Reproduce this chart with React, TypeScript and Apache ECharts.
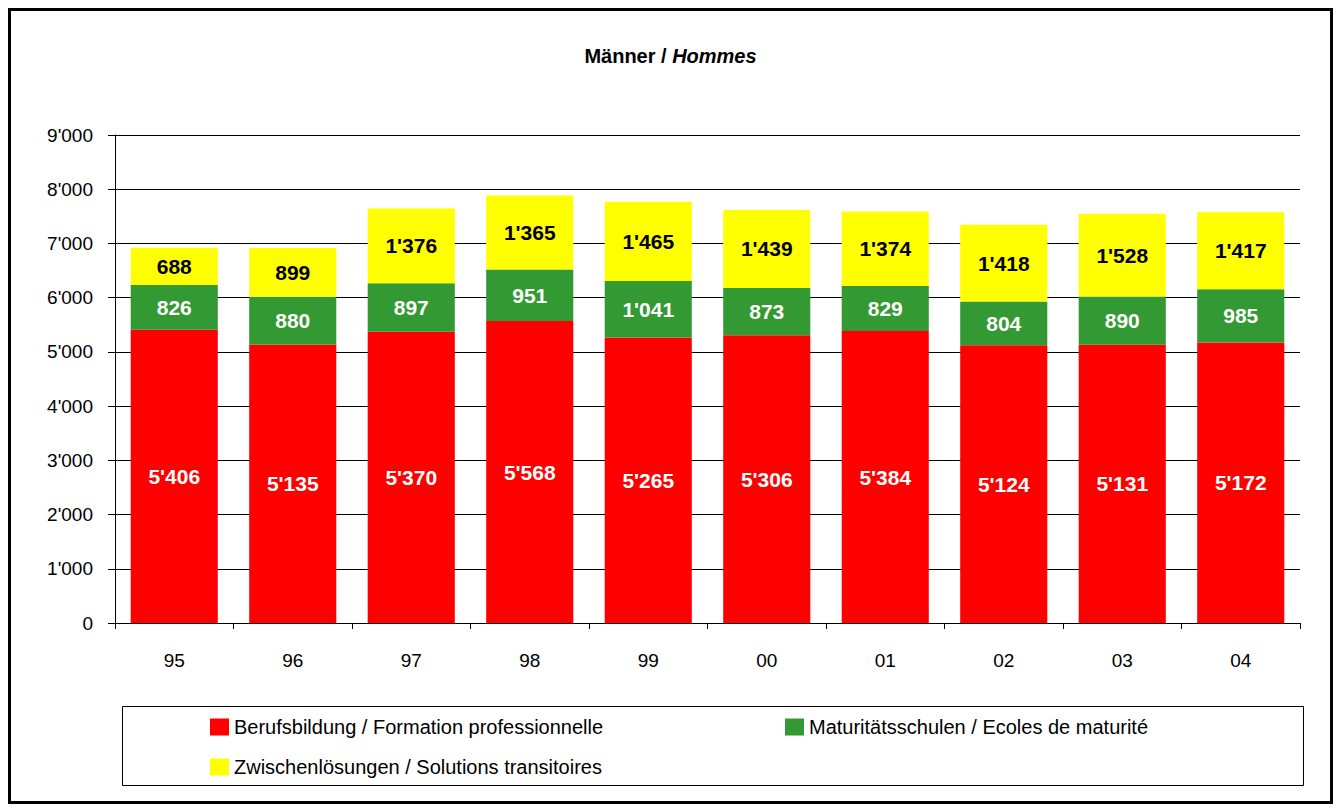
import React, { useEffect, useRef } from "react";
import * as echarts from "echarts";

const categories = ["95", "96", "97", "98", "99", "00", "01", "02", "03", "04"];
const berufsbildung = [5406, 5135, 5370, 5568, 5265, 5306, 5384, 5124, 5131, 5172];
const maturitaet = [826, 880, 897, 951, 1041, 873, 829, 804, 890, 985];
const zwischen = [688, 899, 1376, 1365, 1465, 1439, 1374, 1418, 1528, 1417];
const seriesNames = [
  "Berufsbildung / Formation professionnelle",
  "Maturitätsschulen / Ecoles de maturité",
  "Zwischenlösungen / Solutions transitoires",
];

const fmt = (v: number) => {
  const s = String(Math.round(v));
  return s.replace(/\B(?=(\d{3})+(?!\d))/g, "'");
};

const AX_FONT = "'Liberation Sans', Arial, sans-serif";

export default function App() {
  const ref = useRef<HTMLDivElement>(null);
  useEffect(() => {
    if (!ref.current) return;
    const chart = echarts.init(ref.current, undefined, { renderer: "svg" });
    const mkLabel = (color: string) => ({
      show: true,
      position: "inside",
      color,
      fontFamily: AX_FONT,
      fontWeight: "bold",
      fontSize: 21,
      formatter: (p: any) => fmt(p.value),
    });
    const legendBase = {
      orient: "horizontal",
      itemWidth: 19,
      itemHeight: 17,
      icon: "rect",
      selectedMode: false,
      textStyle: { fontFamily: AX_FONT, fontSize: 20, color: "#000" },
      itemGap: 6,
    };
    chart.setOption({
      animation: false,
      backgroundColor: "#fff",
      title: {
        text: "{b|Männer / }{bi|Hommes}",
        left: "center",
        top: 41,
        textStyle: {
          rich: {
            b: { fontFamily: AX_FONT, fontWeight: "bold", fontSize: 20, color: "#000" },
            bi: { fontFamily: AX_FONT, fontWeight: "bold", fontStyle: "italic", fontSize: 20, color: "#000" },
          },
        },
      },
      grid: { left: 115, right: 41, top: 135, bottom: 185, containLabel: false },
      legend: [
        { ...legendBase, left: 205, top: 712, data: [seriesNames[0]] },
        { ...legendBase, left: 780, top: 712, data: [seriesNames[1]] },
        { ...legendBase, left: 205, top: 752, data: [seriesNames[2]] },
      ],
      xAxis: {
        type: "category",
        data: categories,
        axisLine: { lineStyle: { color: "#000", width: 1 } },
        axisTick: { show: true, length: 6, lineStyle: { color: "#000" } },
        axisLabel: { fontFamily: AX_FONT, fontSize: 19, color: "#000", margin: 28 },
      },
      yAxis: {
        type: "value",
        min: 0,
        max: 9000,
        interval: 1000,
        axisLine: { show: true, lineStyle: { color: "#000", width: 1 } },
        axisTick: { show: true, length: 7, lineStyle: { color: "#000" } },
        axisLabel: { fontFamily: AX_FONT, fontSize: 19, color: "#000", margin: 22, formatter: (v: number) => fmt(v) },
        splitLine: { show: true, lineStyle: { color: "#000", width: 1 } },
      },
      series: [
        {
          name: seriesNames[0],
          type: "bar",
          stack: "a",
          data: berufsbildung,
          barWidth: "73.5%",
          itemStyle: { color: "#FF0000" },
          label: mkLabel("#fff"),
        },
        {
          name: seriesNames[1],
          type: "bar",
          stack: "a",
          data: maturitaet,
          itemStyle: { color: "#339933" },
          label: mkLabel("#fff"),
        },
        {
          name: seriesNames[2],
          type: "bar",
          stack: "a",
          data: zwischen,
          itemStyle: { color: "#FFFF00" },
          label: mkLabel("#000"),
        },
      ],
      graphic: [
        {
          type: "rect",
          shape: { x: 9.5, y: 9.5, width: 1322, height: 793 },
          style: { fill: "none", stroke: "#000", lineWidth: 3 },
          z: 100,
        },
        {
          type: "rect",
          shape: { x: 122.5, y: 706.5, width: 1181, height: 79 },
          style: { fill: "none", stroke: "#000", lineWidth: 1 },
          z: 100,
        },
      ],
    });
    return () => chart.dispose();
  }, []);
  return (
    <div
      ref={ref}
      style={{ position: "fixed", left: 0, top: 0, width: 1341, height: 808 }}
    />
  );
}
